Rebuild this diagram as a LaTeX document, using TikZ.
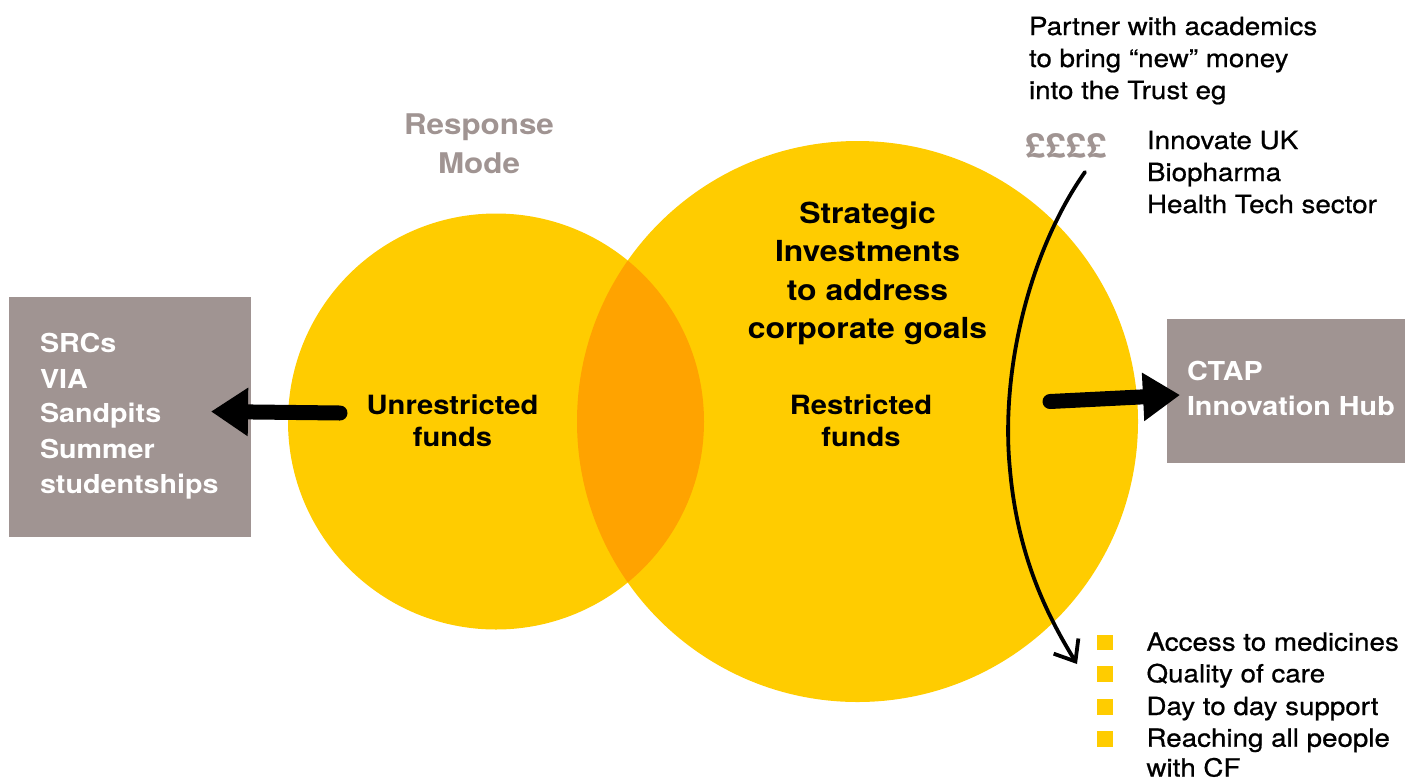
\documentclass[tikz,border=0pt]{standalone}
\usepackage{fontspec}
\setmainfont{TeX Gyre Heros}[FakeStretch=1.1]
\newfontfamily\regfont{TeX Gyre Heros}[FakeStretch=1.11,FakeBold=0.7]
\usetikzlibrary{arrows.meta}
\definecolor{cyel}{HTML}{FFCC00}
\definecolor{corg}{HTML}{FFA300}
\definecolor{cgry}{HTML}{A09492}
\begin{document}
\begin{tikzpicture}[x=1pt,y=-1pt,
  txt/.style={inner sep=0pt, outer sep=0pt},
  reg/.style={txt, font=\regfont\fontsize{25}{30}\selectfont},
  bigb/.style={txt, font=\fontsize{29}{34}\selectfont\bfseries},
  midb/.style={txt, font=\fontsize{26.5}{32}\selectfont\bfseries},
  boxb/.style={txt, text=white, font=\fontsize{26.1}{31}\selectfont\bfseries},
  grayb/.style={txt, text=cgry, font=\fontsize{28.5}{34}\selectfont\bfseries},
  graybox/.style={fill=cgry, draw=none, inner sep=0pt, anchor=north west},
  blob/.style={circle, fill=cyel, draw=none, inner sep=0pt},
  bullet/.style={fill=cyel, draw=none, inner sep=0pt, minimum width=16pt, minimum height=15.5pt, anchor=south west},
  fatarrow/.style={line width=15pt, line cap=round, -{Triangle[length=37pt,width=46pt]}},
  thinarrow/.style={line width=3.8pt, line cap=round, -{Straight Barb[length=18pt,width=29pt]}}
]
\useasboundingbox (0,0) rectangle (1405,780);
% circles
\node[blob, minimum size=416pt] (lc) at (496,421.5) {};
\node[blob, minimum size=561pt] (rc) at (857.5,421.5) {};
\begin{scope}
  \clip (496,421.5) circle[radius=208pt];
  \fill[corg] (857.5,421.5) circle[radius=280.5pt];
\end{scope}
% gray boxes
\node[graybox, minimum width=242pt, minimum height=240pt] (lbox) at (9,297) {};
\node[graybox, minimum width=238pt, minimum height=144pt] (rbox) at (1167,319) {};
% top right text
\node[reg, anchor=base west] (p1) at (1029,35) {Partner with academics};
\node[reg, anchor=base west] (p2) at (1029,67) {to bring “new” money};
\node[reg, anchor=base west] (p3) at (1029,99) {into the Trust eg};
\node[txt, text=cgry, font=\fontsize{33.5}{38}\selectfont\bfseries, anchor=base west] (pounds) at (1025,157) {££££};
\node[reg, anchor=base west] (i1) at (1147,149) {Innovate UK};
\node[reg, anchor=base west] (i2) at (1147,181) {Biopharma};
\node[reg, anchor=base west] (i3) at (1147,213) {Health Tech sector};
% response mode
\node[grayb, anchor=base] (rm1) at (479,134) {Response};
\node[grayb, anchor=base] (rm2) at (479,173) {Mode};
% strategic
\node[bigb, anchor=base] (s1) at (867.5,223) {Strategic};
\node[bigb, anchor=base] (s2) at (867.5,261.5) {Investments};
\node[bigb, anchor=base] (s3) at (867.5,300) {to address};
\node[bigb, anchor=base] (s4) at (867.5,338.5) {corporate goals};
% funds
\node[midb, anchor=base] (u1) at (452.5,414.3) {Unrestricted};
\node[midb, anchor=base] (u2) at (452.5,446.7) {funds};
\node[midb, anchor=base] (r1) at (861,414.3) {Restricted};
\node[midb, anchor=base] (r2) at (861,446.7) {funds};
% left box text
\node[boxb, anchor=base west] (l1) at (40,352.7) {SRCs};
\node[boxb, anchor=base west] (l2) at (40,388.3) {VIA};
\node[boxb, anchor=base west] (l3) at (40,422.7) {Sandpits};
\node[boxb, anchor=base west] (l4) at (40,458.3) {Summer};
\node[boxb, anchor=base west] (l5) at (40,493.3) {studentships};
% right box text
\node[boxb, anchor=base west] (c1) at (1187,380) {CTAP};
\node[boxb, anchor=base west] (c2) at (1187,415) {Innovation Hub};
% bullets
\node[bullet] (b1) at (1097,650.5) {};
\node[bullet] (b2) at (1097,682) {};
\node[bullet] (b3) at (1097,715) {};
\node[bullet] (b4) at (1097,747) {};
\node[reg, anchor=base west] (t1) at (1146.5,650.7) {Access to medicines};
\node[reg, anchor=base west] (t2) at (1146.5,682.3) {Quality of care};
\node[reg, anchor=base west] (t3) at (1146.5,715) {Day to day support};
\node[reg, anchor=base west] (t4) at (1146.5,746.7) {Reaching all people};
\node[reg, anchor=base west, text depth=0pt] (t5) at (1146.5,776.5) {with CF};
% arrows
\coordinate (la-s) at (340,413);
\coordinate (la-e) at (211,411.5);
\draw[fatarrow] (la-s) -- (la-e);
\coordinate (ra-s) at (1050,401.5);
\coordinate (ra-e) at (1180,395);
\draw[fatarrow] (ra-s) -- (ra-e);
\coordinate (cv-s) at (1085,172);
\coordinate (cv-m) at (1010,470);
\coordinate (cv-e) at (1077,664);
\draw[thinarrow] (cv-s) .. controls (1030,250) and (1000,370) .. (cv-m) .. controls (1018,560) and (1050,620) .. (cv-e);
\end{tikzpicture}
\end{document}
